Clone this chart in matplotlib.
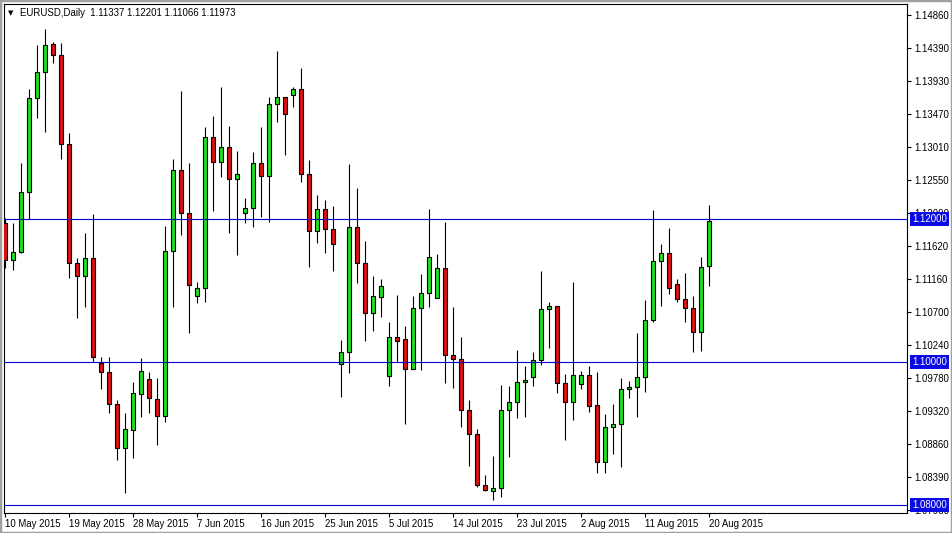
import matplotlib
matplotlib.use('Agg')
import matplotlib.pyplot as plt
from matplotlib.patches import Rectangle
import numpy as np
import pandas as pd

plt.rcParams['font.family'] = ['Liberation Sans', 'DejaVu Sans']

# --- data (EURUSD daily, MT4 style with Sunday bars) ---
title = 'EURUSD,Daily  1.11337 1.12201 1.11066 1.11973'
days = pd.date_range('2015-05-10', '2015-08-20')
days = days[days.dayofweek != 5]  # no Saturday bars

opens = [1.11944, 1.11427, 1.11534, 1.12373, 1.13688, 1.14052, 1.14448, 1.14294, 1.13045, 1.11380,
         1.11203, 1.11450, 1.09982, 1.09856, 1.09413, 1.08793, 1.09049, 1.09548, 1.09758, 1.09478,
         1.09249, 1.11552, 1.12685, 1.12088, 1.10923, 1.11031, 1.13143, 1.12801, 1.13003, 1.12555,
         1.12080, 1.12150, 1.12779, 1.12601, 1.13604, 1.13702, 1.13730, 1.13814, 1.12625, 1.11836,
         1.12136, 1.11856, 1.09968, 1.10136, 1.11884, 1.11380, 1.10690, 1.10913, 1.09808, 1.10345,
         1.10317, 1.09898, 1.10751, 1.10961, 1.10891, 1.11310, 1.10098, 1.10038, 1.09329, 1.08989,
         1.08276, 1.08200, 1.08242, 1.09329, 1.09436, 1.09716, 1.09786, 1.10028, 1.10737, 1.10783,
         1.09702, 1.09445, 1.09688, 1.09818, 1.09399, 1.08606, 1.09087, 1.09129, 1.09618, 1.09646,
         1.09786, 1.10587, 1.11413, 1.11520, 1.11087, 1.10877, 1.10751, 1.10424, 1.11337]
highs = [1.12014, 1.11948, 1.12779, 1.13814, 1.14434, 1.14653, 1.14476, 1.14457, 1.13199, 1.11450,
         1.11800, 1.12070, 1.10075, 1.10066, 1.09469, 1.09282, 1.09725, 1.10052, 1.09864, 1.09772,
         1.11902, 1.12835, 1.13795, 1.12779, 1.11123, 1.13291, 1.13440, 1.13851, 1.13301, 1.12951,
         1.12290, 1.12937, 1.13291, 1.13702, 1.14354, 1.13710, 1.13851, 1.14108, 1.12825, 1.12336,
         1.12266, 1.12182, 1.10308, 1.12769, 1.12429, 1.11697, 1.11203, 1.11157, 1.10564, 1.10937,
         1.10503, 1.10923, 1.11231, 1.12136, 1.11510, 1.11962, 1.10774, 1.10354, 1.09469, 1.09059,
         1.08420, 1.08685, 1.09678, 1.09664, 1.10168, 1.09944, 1.10144, 1.11277, 1.10843, 1.10783,
         1.09828, 1.11123, 1.09874, 1.09944, 1.09864, 1.09273, 1.09413, 1.09772, 1.09734, 1.10401,
         1.10867, 1.12126, 1.11650, 1.11870, 1.11157, 1.11240, 1.10923, 1.11464, 1.12201]
lows = [1.11315, 1.11287, 1.11520, 1.12000, 1.13417, 1.13221, 1.14178, 1.12835, 1.11171, 1.10611,
        1.10765, 1.10004, 1.09618, 1.09291, 1.08629, 1.08172, 1.08653, 1.09235, 1.09282, 1.08839,
        1.09165, 1.10774, 1.11776, 1.10401, 1.10829, 1.10843, 1.12116, 1.12583, 1.11800, 1.11492,
        1.11940, 1.11884, 1.12032, 1.11962, 1.13361, 1.12895, 1.13562, 1.12520, 1.11333, 1.11669,
        1.11520, 1.11277, 1.09515, 1.09842, 1.11101, 1.10298, 1.10438, 1.10634, 1.09669, 1.10004,
        1.09133, 1.09898, 1.09888, 1.10765, 1.10891, 1.09711, 1.09632, 1.09095, 1.08545, 1.08256,
        1.08189, 1.08070, 1.08108, 1.08676, 1.09213, 1.09235, 1.09664, 1.09958, 1.10200, 1.09571,
        1.08909, 1.09189, 1.09618, 1.09305, 1.08452, 1.08452, 1.08709, 1.08536, 1.09492, 1.09235,
        1.09585, 1.10564, 1.10783, 1.10951, 1.10843, 1.10564, 1.10144, 1.10158, 1.11066]
closes = [1.11427, 1.11538, 1.12373, 1.13688, 1.14052, 1.14434, 1.14294, 1.13045, 1.11380, 1.11203,
          1.11450, 1.10066, 1.09856, 1.09413, 1.08793, 1.09059, 1.09562, 1.09874, 1.09492, 1.09249,
          1.11552, 1.12685, 1.12088, 1.11077, 1.11031, 1.13143, 1.12801, 1.13003, 1.12555, 1.12625,
          1.12150, 1.12779, 1.12601, 1.13604, 1.13702, 1.13464, 1.13814, 1.12625, 1.11836, 1.12136,
          1.11856, 1.11646, 1.10136, 1.11884, 1.11380, 1.10690, 1.10923, 1.11063, 1.10345, 1.10298,
          1.09898, 1.10751, 1.10961, 1.11464, 1.11310, 1.10098, 1.10038, 1.09329, 1.08989, 1.08276,
          1.08210, 1.08242, 1.09329, 1.09436, 1.09716, 1.09748, 1.10028, 1.10737, 1.10783, 1.09702,
          1.09445, 1.09818, 1.09818, 1.09389, 1.08606, 1.09087, 1.09129, 1.09618, 1.09646, 1.09786,
          1.10587, 1.11413, 1.11520, 1.11039, 1.10877, 1.10751, 1.10424, 1.11324, 1.11973]

level_lines = [1.12000, 1.10000, 1.08000]
price_ticks = [1.14860, 1.14390, 1.13930, 1.13470, 1.13010, 1.12550, 1.12090, 1.11620,
               1.11160, 1.10700, 1.10240, 1.09780, 1.09320, 1.08860, 1.08390, 1.07930]

# --- figure ---
W, H = 952, 533
fig = plt.figure(figsize=(W / 100, H / 100), dpi=100)
fig.patch.set_facecolor('white')
ax = fig.add_axes([4 / W, 1 - 513 / H, 903 / W, 509 / H])

x = np.arange(len(days))
o = np.array(opens)
c = np.array(closes)
up = c >= o
body_colors = np.where(up, '#1ee11e', '#dd1010')

ax.vlines(x, lows, highs, color='black', lw=0.8, zorder=2)
ax.bar(x, np.maximum(np.abs(c - o), 0.00003), bottom=np.minimum(o, c), width=0.6,
       color=body_colors, edgecolor='black', linewidth=0.8, zorder=3)

for lvl in level_lines:
    ax.axhline(lvl, color='#0000c8', lw=0.8, zorder=4)

ax.set_xlim(-0.125, 112.75)
ax.set_ylim(1.078881, 1.150070)

for s in ax.spines.values():
    s.set_color('black')
    s.set_linewidth(0.8)

# price scale on the right
ax.yaxis.tick_right()
ax.set_yticks(price_ticks)
ax.set_yticklabels([f'{v:.5f}' for v in price_ticks])
ax.tick_params(axis='y', direction='out', length=3, width=0.8, pad=2.5, labelsize=6.9, colors='black')

# date scale at the bottom
tick_idx = x[::8]
ax.set_xticks(tick_idx)
ax.set_xticklabels([f'{days[i].day} {days[i].strftime("%b %Y")}' for i in tick_idx], ha='left')
ax.tick_params(axis='x', direction='out', length=3, width=0.8, pad=1.5, labelsize=6.9, colors='black')

# blue price boxes for the horizontal lines (they cover the scale label under them)
for lvl in level_lines:
    ax.annotate(f'{lvl:.5f}', xy=(1, lvl), xycoords=('axes fraction', 'data'),
                xytext=(5, 0), textcoords='offset pixels', ha='left', va='center',
                fontsize=6.9, color='white', zorder=6, annotation_clip=False,
                bbox=dict(boxstyle='square,pad=0.2', fc='#0a0ae6', ec='none'))

# header line
fig.text(11 / W, 1 - 13 / H, '\u25bc', fontsize=5, family='DejaVu Sans', ha='center', va='center')
fig.text(20 / W, 1 - 13 / H, title, fontsize=6.9, ha='left', va='center')

# window frame
fig.patches.append(Rectangle((0, 0), 1, 1, transform=fig.transFigure, fill=False,
                             ec='#a0a0a0', lw=2.5))

fig.savefig('out.png', dpi=100)
